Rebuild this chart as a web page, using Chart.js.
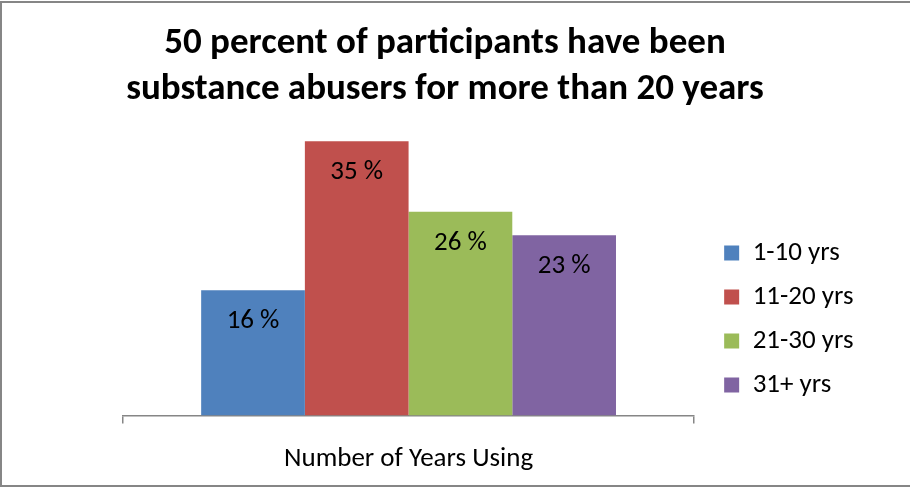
<!DOCTYPE html>
<html>
<head>
<meta charset="utf-8">
<script src="https://cdn.jsdelivr.net/npm/chart.js@4.4.1/dist/chart.umd.min.js"></script>
<style>
  html, body { margin: 0; padding: 0; background: #ffffff; }
  #wrap { width: 910px; height: 487px; position: relative; }
</style>
</head>
<body>
<div id="wrap"><canvas id="c" width="910" height="487"></canvas></div>
<script>
const categories = ["Number of Years Using"];
const seriesNames = ["1-10 yrs", "11-20 yrs", "21-30 yrs", "31+ yrs"];
const seriesValues = [16, 35, 26, 23];
const seriesColors = ["#4f81bd", "#c0504d", "#9bbb59", "#8064a2"];
const titleLines = ["50 percent of participants have been", "substance abusers for more than 20 years"];
const axisTitle = "Number of Years Using";

const FONT = "Carlito, Calibri, Lato, 'Open Sans', sans-serif";

const datasets = seriesNames.map((name, i) => ({
  label: name,
  data: [seriesValues[i]],
  backgroundColor: seriesColors[i],
  borderWidth: 0,
  categoryPercentage: 0.7263,
  barPercentage: 1.0
}));

const frame = {
  id: 'frame',
  beforeDraw(chart) {
    const ctx = chart.ctx;
    ctx.save();
    ctx.fillStyle = '#ffffff';
    ctx.fillRect(0, 0, chart.width, chart.height);
    ctx.strokeStyle = '#868686';
    ctx.lineWidth = 2;
    ctx.strokeRect(1, 2, chart.width + 10, chart.height - 3);
    ctx.restore();
  }
};

const valueLabels = {
  id: 'valueLabels',
  afterDatasetsDraw(chart) {
    const ctx = chart.ctx;
    ctx.save();
    ctx.font = "27px " + FONT;
    ctx.fillStyle = '#000000';
    ctx.textAlign = 'center';
    ctx.textBaseline = 'middle';
    chart.data.datasets.forEach((ds, i) => {
      const meta = chart.getDatasetMeta(i);
      meta.data.forEach((bar, j) => {
        ctx.fillText(ds.data[j] + " %", bar.x, bar.y + 31);
      });
    });
    ctx.restore();
  }
};

new Chart(document.getElementById('c'), {
  type: 'bar',
  data: { labels: categories, datasets },
  options: {
    responsive: false,
    animation: false,
    layout: { padding: { left: 26.5, right: 46.5, top: 0, bottom: 12 } },
    plugins: {
      title: {
        display: true,
        text: titleLines,
        color: '#000000',
        font: { family: FONT, size: 37, weight: 'bold', lineHeight: 1.243 },
        padding: { top: 21, bottom: 0 }
      },
      legend: {
        position: 'right',
        align: 'end',
        fullSize: false,
        maxWidth: 220,
        labels: {
          color: '#000000',
          font: { family: FONT, size: 27 },
          boxWidth: 15,
          boxHeight: 15,
          padding: 17
        }
      },
      tooltip: { enabled: false }
    },
    scales: {
      x: {
        offset: true,
        grid: { display: true, offset: true, drawOnChartArea: false, drawTicks: true, tickLength: 8, color: '#868686', lineWidth: 1.5 },
        border: { display: true, color: '#868686', width: 1.5 },
        ticks: { display: false },
        title: { display: true, text: axisTitle, color: '#000000', font: { family: FONT, size: 27, lineHeight: 1.2 }, padding: { top: 19, bottom: 0 } }
      },
      y: {
        display: true,
        min: 0,
        max: 38.6,
        grid: { display: false },
        border: { display: false },
        ticks: { display: false },
        afterFit(s) { s.width = 96.5; }
      },
      y2: {
        position: 'right',
        display: true,
        min: 0,
        max: 38.6,
        grid: { display: false },
        border: { display: false },
        ticks: { display: false },
        afterFit(s) { s.width = 13; }
      }
    }
  },
  plugins: [frame, valueLabels]
});
</script>
</body>
</html>
